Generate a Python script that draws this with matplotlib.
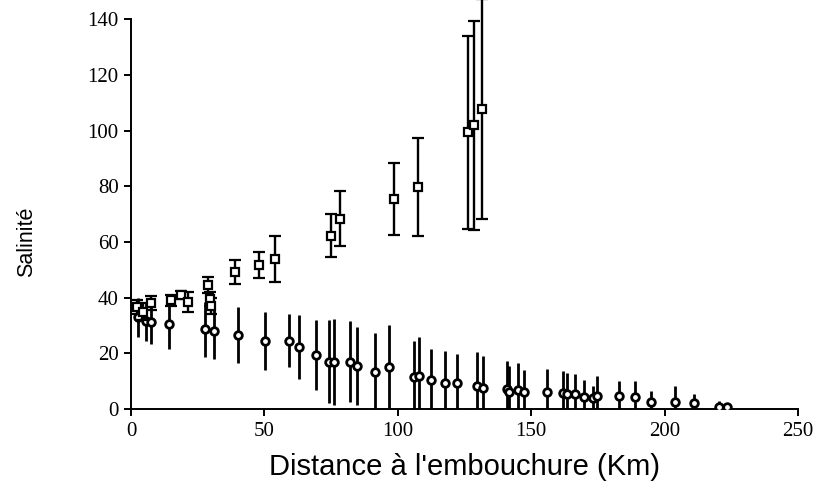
import numpy as np
import matplotlib
matplotlib.use("Agg")
import matplotlib.pyplot as plt

# Série supérieure (carrés, avec barres d'erreur à chapeau)
dist_sq = [2.1, 4.5, 7.5, 15.0, 18.7, 21.4, 29.0, 29.6, 30.0, 39.0, 48.1, 54.0,
           75.0, 78.5, 98.5, 107.5, 126.4, 128.6, 131.6]
sal_sq = [36.7, 35.0, 38.0, 39.0, 41.0, 38.4, 44.5, 39.5, 37.0, 49.2, 51.7, 53.8,
          62.2, 68.4, 75.4, 79.7, 99.3, 101.9, 107.9]
err_sq = [2.5, 3.0, 2.5, 2.0, 1.5, 3.5, 3.0, 2.5, 3.0, 4.3, 4.7, 8.2,
          7.7, 10.0, 13.0, 17.5, 34.7, 37.5, 39.5]

# Série inférieure (cercles, barres d'erreur sans chapeau)
dist_ci = [2.7, 5.6, 7.5, 14.4, 27.7, 31.1, 40.2, 50.2, 59.3, 63.1, 69.2, 74.2,
           76.2, 82.1, 84.6, 91.5, 96.7, 106.1, 107.9, 112.5, 117.7, 122.1, 129.8,
           131.8, 141.0, 141.8, 145.2, 147.4, 155.8, 162.0, 163.3, 166.4, 169.8,
           173.3, 174.5, 182.9, 188.9, 194.9, 204.0, 211.1, 220.5, 223.3]
sal_ci = [32.9, 31.6, 31.2, 30.4, 28.6, 28.0, 26.6, 24.5, 24.5, 22.4, 19.3, 17.0,
          17.0, 17.0, 15.5, 13.4, 15.2, 11.4, 11.8, 10.4, 9.2, 9.2, 8.3,
          7.7, 7.1, 6.2, 6.8, 6.1, 6.0, 5.9, 5.3, 5.3, 4.4,
          4.1, 4.7, 4.7, 4.4, 2.6, 2.6, 2.3, 0.8, 0.6]
err_ci = [7.0, 7.0, 8.0, 9.0, 10.0, 10.0, 10.0, 10.5, 9.5, 11.5, 12.5, 15.0,
          15.5, 14.5, 14.0, 14.0, 15.0, 13.0, 14.0, 11.0, 11.7, 10.5, 12.0,
          11.3, 10.2, 9.2, 9.8, 7.9, 8.5, 7.9, 7.5, 7.4, 6.0,
          4.0, 7.0, 5.5, 5.8, 4.0, 5.7, 3.1, 2.2, 0.5]

x_ticks = [0, 50, 100, 150, 200, 250]
y_ticks = [0, 20, 40, 60, 80, 100, 120, 140]

fig = plt.figure(figsize=(8.21, 4.91), dpi=100)
ax = fig.add_axes([0.1596, 0.167, 0.8124, 0.794])

ax.errorbar(dist_ci, sal_ci, yerr=err_ci, fmt='o', ms=5.5, mfc='white', mec='black',
            mew=2.0, ecolor='black', elinewidth=2.0, capsize=0, zorder=3)
eb = ax.errorbar(dist_sq, sal_sq, yerr=err_sq, fmt='s', ms=5.8, mfc='white', mec='black',
                 mew=1.6, ecolor='black', elinewidth=1.7, capsize=4.5, capthick=1.8,
                 zorder=4)
# la barre du dernier carré dépasse le haut de l'axe
eb.lines[0].set_clip_on(False)
for art in eb.lines[1] + eb.lines[2]:
    art.set_clip_on(False)

ax.set_xlim(0, 250)
ax.set_ylim(0, 140)
ax.set_xticks(x_ticks)
ax.set_yticks(y_ticks)

for s in ['top', 'right']:
    ax.spines[s].set_visible(False)
for s in ['left', 'bottom']:
    ax.spines[s].set_linewidth(1.4)

ax.tick_params(direction='out', length=5, width=1.4, pad=4)
for lab in ax.get_xticklabels() + ax.get_yticklabels():
    lab.set_family('Liberation Serif')
    lab.set_fontsize(15)

ax.set_xlabel("Distance à l'embouchure (Km)", family='Liberation Sans', fontsize=21)
ax.xaxis.label.set_va('center')
ax.xaxis.set_label_coords(0.5, -0.148)
ax.set_ylabel("Salinité", family='Liberation Sans', fontsize=15.5)
ax.yaxis.label.set_va('center')
ax.yaxis.set_label_coords(-0.156, 0.43)

fig.savefig("out.png", dpi=100)
